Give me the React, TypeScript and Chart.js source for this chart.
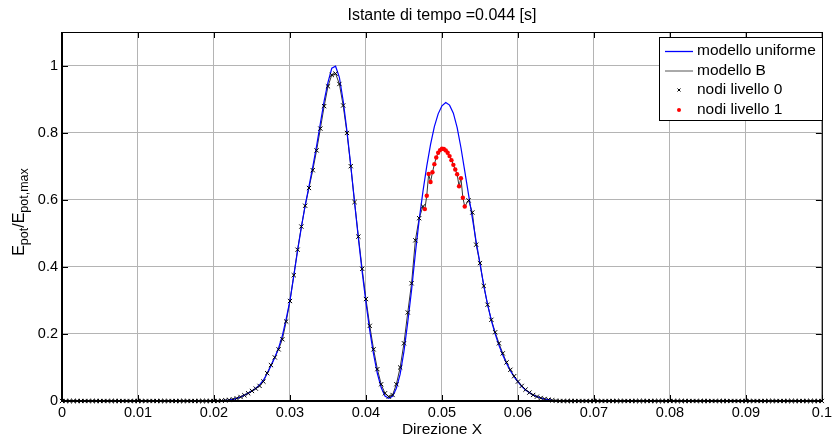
import React, { useEffect, useRef } from "react";
import { Chart, registerables } from "chart.js";

Chart.register(...registerables);

const titleText = "Istante di tempo =0.044 [s]";
const xAxisTitle = "Direzione X";
const legendLabels = ["modello uniforme", "modello B", "nodi livello 0", "nodi livello 1"];

const xTicks = [0, 0.01, 0.02, 0.03, 0.04, 0.05, 0.06, 0.07, 0.08, 0.09, 0.1];
const xTickLabels = ["0", "0.01", "0.02", "0.03", "0.04", "0.05", "0.06", "0.07", "0.08", "0.09", "0.1"];
const yTicks = [0, 0.2, 0.4, 0.6, 0.8, 1];
const yTickLabels = ["0", "0.2", "0.4", "0.6", "0.8", "1"];

// modello uniforme (blue line)
const uniformX = [
  0, 0.02, 0.0205, 0.021, 0.0215, 0.022, 0.0225, 0.023, 0.0235, 0.024, 0.0245,
  0.025, 0.0255, 0.026, 0.0265, 0.027, 0.0275, 0.028, 0.0285, 0.029, 0.0295,
  0.03, 0.0305, 0.031, 0.0315, 0.032, 0.0325, 0.033, 0.0335, 0.034, 0.0345,
  0.035, 0.0355, 0.036, 0.0365, 0.037, 0.0375, 0.038, 0.0385, 0.039, 0.0395,
  0.04, 0.0405, 0.041, 0.0415, 0.042, 0.0425, 0.043, 0.0435, 0.044, 0.0445,
  0.045, 0.0455, 0.046, 0.0465, 0.047, 0.0475, 0.048, 0.0485, 0.049, 0.0495,
  0.05, 0.0505, 0.051, 0.0515, 0.052, 0.0525, 0.053, 0.0535, 0.054, 0.0545,
  0.055, 0.0555, 0.056, 0.0565, 0.057, 0.0575, 0.058, 0.0585, 0.059, 0.0595,
  0.06, 0.0605, 0.061, 0.0615, 0.062, 0.0625, 0.063, 0.0635, 0.064, 0.0645,
  0.065, 0.066, 0.1,
];
const uniformY = [
  0, 0, 0.0005, 0.001, 0.002, 0.003, 0.005, 0.008, 0.012, 0.017, 0.023,
  0.03, 0.038, 0.048, 0.062, 0.082, 0.105, 0.13, 0.158, 0.195, 0.245,
  0.3, 0.372, 0.448, 0.518, 0.583, 0.64, 0.698, 0.76, 0.828, 0.895,
  0.95, 0.992, 0.998, 0.965, 0.895, 0.805, 0.702, 0.592, 0.485, 0.385,
  0.293, 0.21, 0.14, 0.082, 0.04, 0.015, 0.008, 0.014, 0.038, 0.08,
  0.148, 0.235, 0.33, 0.44, 0.54, 0.625, 0.7, 0.765, 0.818, 0.856,
  0.88, 0.89, 0.882, 0.858, 0.815, 0.755, 0.685, 0.615, 0.545, 0.475,
  0.41, 0.345, 0.288, 0.24, 0.2, 0.166, 0.137, 0.112, 0.09, 0.072,
  0.057, 0.044, 0.033, 0.025, 0.018, 0.013, 0.009, 0.006, 0.004, 0.002,
  0.001, 0, 0,
];

// nodi livello 0
const level0X = [
  0, 0.0005, 0.001, 0.0015, 0.002, 0.0025, 0.003, 0.0035, 0.004, 0.0045,
  0.005, 0.0055, 0.006, 0.0065, 0.007, 0.0075, 0.008, 0.0085, 0.009, 0.0095,
  0.01, 0.0105, 0.011, 0.0115, 0.012, 0.0125, 0.013, 0.0135, 0.014, 0.0145,
  0.015, 0.0155, 0.016, 0.0165, 0.017, 0.0175, 0.018, 0.0185, 0.019, 0.0195,
  0.02, 0.0205, 0.021, 0.0215, 0.022, 0.0225, 0.023, 0.0235, 0.024, 0.0245,
  0.025, 0.0255, 0.026, 0.0265, 0.027, 0.0275, 0.028, 0.0285, 0.029, 0.0295,
  0.03, 0.0305, 0.031, 0.0315, 0.032, 0.0325, 0.033, 0.0335, 0.034, 0.0345,
  0.035, 0.0355, 0.036, 0.0365, 0.037, 0.0375, 0.038, 0.0385, 0.039, 0.0395,
  0.04, 0.0405, 0.041, 0.0415, 0.042, 0.0425, 0.043, 0.0435, 0.044, 0.0445,
  0.045, 0.0455, 0.046, 0.0465, 0.047, 0.0475,
  0.0535, 0.054, 0.0545, 0.055, 0.0555, 0.056, 0.0565, 0.057, 0.0575, 0.058, 0.0585, 0.059, 0.0595,
  0.06, 0.0605, 0.061, 0.0615, 0.062, 0.0625, 0.063, 0.0635, 0.064, 0.0645,
  0.065, 0.0655, 0.066, 0.0665, 0.067, 0.0675, 0.068, 0.0685, 0.069, 0.0695,
  0.07, 0.0705, 0.071, 0.0715, 0.072, 0.0725, 0.073, 0.0735, 0.074, 0.0745,
  0.075, 0.0755, 0.076, 0.0765, 0.077, 0.0775, 0.078, 0.0785, 0.079, 0.0795,
  0.08, 0.0805, 0.081, 0.0815, 0.082, 0.0825, 0.083, 0.0835, 0.084, 0.0845,
  0.085, 0.0855, 0.086, 0.0865, 0.087, 0.0875, 0.088, 0.0885, 0.089, 0.0895,
  0.09, 0.0905, 0.091, 0.0915, 0.092, 0.0925, 0.093, 0.0935, 0.094, 0.0945,
  0.095, 0.0955, 0.096, 0.0965, 0.097, 0.0975, 0.098, 0.0985, 0.099, 0.0995, 0.1,
];
const level0Y = [
  0, 0, 0, 0, 0, 0, 0, 0, 0, 0,
  0, 0, 0, 0, 0, 0, 0, 0, 0, 0,
  0, 0, 0, 0, 0, 0, 0, 0, 0, 0,
  0, 0, 0, 0, 0, 0, 0, 0, 0, 0,
  0, 0, 0.001, 0.002, 0.003, 0.005, 0.008, 0.012, 0.017, 0.023,
  0.03, 0.037, 0.045, 0.058, 0.083, 0.107, 0.13, 0.154, 0.184, 0.237,
  0.298, 0.375, 0.451, 0.52, 0.582, 0.635, 0.688, 0.747, 0.812, 0.879,
  0.938, 0.972, 0.976, 0.945, 0.881, 0.799, 0.7, 0.593, 0.49, 0.394,
  0.304, 0.224, 0.154, 0.095, 0.05, 0.023, 0.013, 0.018, 0.05, 0.1,
  0.172, 0.264, 0.351, 0.479, 0.545, 0.58,
  0.598, 0.562, 0.466, 0.411, 0.343, 0.287, 0.242, 0.205, 0.172, 0.142, 0.115, 0.093, 0.074,
  0.058, 0.045, 0.034, 0.025, 0.018, 0.013, 0.009, 0.006, 0.004, 0.002,
  0.001, 0, 0, 0, 0, 0, 0, 0, 0, 0,
  0, 0, 0, 0, 0, 0, 0, 0, 0, 0,
  0, 0, 0, 0, 0, 0, 0, 0, 0, 0,
  0, 0, 0, 0, 0, 0, 0, 0, 0, 0,
  0, 0, 0, 0, 0, 0, 0, 0, 0, 0,
  0, 0, 0, 0, 0, 0, 0, 0, 0, 0,
  0, 0, 0, 0, 0, 0, 0, 0, 0, 0, 0,
];

// nodi livello 1 (refined nodes, red)
const level1X = [
  0.04775, 0.048, 0.04825, 0.0485, 0.04875, 0.049, 0.04925, 0.0495, 0.04975, 0.05, 0.05025,
  0.0505, 0.05075, 0.051, 0.05125, 0.0515, 0.05175, 0.052, 0.05225, 0.0525, 0.05275, 0.053,
];
const level1Y = [
  0.572, 0.612, 0.677, 0.653, 0.682, 0.706, 0.726, 0.74, 0.748, 0.752, 0.751,
  0.747, 0.74, 0.73, 0.718, 0.704, 0.69, 0.676, 0.64, 0.664, 0.606, 0.58,
];

const FONT = "'Liberation Sans', Arial, Helvetica, sans-serif";

const toPts = (xs: number[], ys: number[]) => xs.map((x, i) => ({ x, y: ys[i] }));

const overlayPlugin = {
  id: "matlabOverlay",
  afterDraw(chart: any) {
    const { ctx, chartArea } = chart;
    const { left, right, top, bottom } = chartArea;
    const xs = chart.scales.x;
    const ys = chart.scales.y;
    ctx.save();

    // frame
    ctx.strokeStyle = "#000";
    ctx.lineWidth = 1;
    ctx.beginPath();
    ctx.moveTo(left, top + 0.5);
    ctx.lineTo(right + 0.5, top + 0.5);
    ctx.lineTo(right + 0.5, bottom);
    ctx.stroke();
    ctx.lineWidth = 2;
    ctx.beginPath();
    ctx.moveTo(left, top);
    ctx.lineTo(left, bottom);
    ctx.lineTo(right + 1, bottom);
    ctx.stroke();

    // inward tick marks
    ctx.lineWidth = 1;
    ctx.beginPath();
    xTicks.forEach((t) => {
      const px = Math.round(xs.getPixelForValue(t)) + 0.5;
      ctx.moveTo(px, bottom);
      ctx.lineTo(px, bottom - 6);
      ctx.moveTo(px, top);
      ctx.lineTo(px, top + 6);
    });
    yTicks.forEach((t) => {
      const py = Math.round(ys.getPixelForValue(t)) + 0.5;
      ctx.moveTo(left, py);
      ctx.lineTo(left + 6, py);
      ctx.moveTo(right, py);
      ctx.lineTo(right - 6, py);
    });
    ctx.stroke();

    // title
    ctx.fillStyle = "#000";
    ctx.font = `16px ${FONT}`;
    ctx.textAlign = "center";
    ctx.textBaseline = "middle";
    ctx.fillText(titleText, (left + right) / 2, 16);

    // x axis title
    ctx.font = `15.5px ${FONT}`;
    ctx.fillText(xAxisTitle, (left + right) / 2, 430);

    // y axis title with subscripts
    ctx.save();
    ctx.translate(24, 212);
    ctx.rotate(-Math.PI / 2);
    const mainF = `16px ${FONT}`;
    const subF = `12.5px ${FONT}`;
    const parts: [string, boolean][] = [["E", false], ["pot", true], ["/E", false], ["pot,max", true]];
    let total = 0;
    parts.forEach(([s, sub]) => {
      ctx.font = sub ? subF : mainF;
      total += ctx.measureText(s).width;
    });
    let cx = -total / 2;
    ctx.textAlign = "left";
    ctx.textBaseline = "alphabetic";
    parts.forEach(([s, sub]) => {
      ctx.font = sub ? subF : mainF;
      ctx.fillText(s, cx, sub ? 4 : 0);
      cx += ctx.measureText(s).width;
    });
    ctx.restore();

    // legend box
    const bx = 659.5, by = 37.5, bw = 163, bh = 83;
    ctx.fillStyle = "#fff";
    ctx.fillRect(bx, by, bw, bh);
    ctx.strokeStyle = "#000";
    ctx.lineWidth = 1;
    ctx.strokeRect(bx, by, bw, bh);
    const rows = [51, 70.5, 90, 110];
    ctx.font = `15.5px ${FONT}`;
    ctx.textAlign = "left";
    ctx.textBaseline = "middle";
    ctx.fillStyle = "#000";
    legendLabels.forEach((lab, i) => {
      ctx.fillText(lab, 697, rows[i]);
    });
    // samples
    ctx.lineWidth = 1.3;
    ctx.strokeStyle = "#0000ff";
    ctx.beginPath();
    ctx.moveTo(665, rows[0] + 0.5);
    ctx.lineTo(693, rows[0] + 0.5);
    ctx.stroke();
    ctx.lineWidth = 1;
    ctx.strokeStyle = "#555";
    ctx.beginPath();
    ctx.moveTo(665, rows[1] + 0.5);
    ctx.lineTo(693, rows[1] + 0.5);
    ctx.stroke();
    ctx.strokeStyle = "#000";
    ctx.beginPath();
    ctx.moveTo(677.5, rows[2] - 1.5);
    ctx.lineTo(680.5, rows[2] + 1.5);
    ctx.moveTo(680.5, rows[2] - 1.5);
    ctx.lineTo(677.5, rows[2] + 1.5);
    ctx.stroke();
    ctx.fillStyle = "#ff0000";
    ctx.beginPath();
    ctx.arc(679, rows[3], 2, 0, Math.PI * 2);
    ctx.fill();

    ctx.restore();
  },
};

export default function App() {
  const canvasRef = useRef<HTMLCanvasElement | null>(null);

  useEffect(() => {
    if (!canvasRef.current) return;
    const uniformPts = toPts(uniformX, uniformY);
    const level0Pts = toPts(level0X, level0Y);
    const level1Pts = toPts(level1X, level1Y);
    const modelBPts = [...level0Pts, ...level1Pts].sort((a, b) => a.x - b.x);

    const chart = new Chart(canvasRef.current, {
      type: "scatter",
      data: {
        datasets: [
          {
            label: legendLabels[0],
            data: uniformPts,
            showLine: true,
            borderColor: "#0000ff",
            borderWidth: 1.2,
            pointRadius: 0,
            tension: 0,
            order: 2,
            clip: false,
          },
          {
            label: legendLabels[1],
            data: modelBPts,
            showLine: true,
            borderColor: "#333333",
            borderWidth: 1,
            pointRadius: 0,
            tension: 0,
            order: 3,
            clip: false,
          },
          {
            label: legendLabels[2],
            data: level0Pts,
            showLine: false,
            pointStyle: "crossRot",
            pointRadius: 3,
            borderColor: "#000",
            borderWidth: 1,
            order: 1,
            clip: false,
          },
          {
            label: legendLabels[3],
            data: level1Pts,
            showLine: false,
            pointStyle: "circle",
            pointRadius: 2.2,
            backgroundColor: "#ff0000",
            borderColor: "#ff0000",
            borderWidth: 0,
            order: 0,
            clip: false,
          },
        ] as any,
      },
      options: {
        responsive: false,
        animation: false,
        events: [],
        layout: { padding: { top: 32, right: 8, left: 0, bottom: 0 } },
        plugins: {
          legend: { display: false },
          title: { display: false },
          tooltip: { enabled: false },
        },
        scales: {
          x: {
            type: "linear",
            min: 0,
            max: 0.1,
            afterFit: (s: any) => {
              s.height = 42;
            },
            afterBuildTicks: (s: any) => {
              s.ticks = xTicks.map((v) => ({ value: v }));
            },
            ticks: {
              autoSkip: false,
              maxRotation: 0,
              padding: 3,
              color: "#000",
              font: { family: FONT, size: 14.5 },
              callback: (_v: any, i: number) => xTickLabels[i],
            },
            grid: { color: "#b4b4b4", lineWidth: 1, drawTicks: false },
            border: { display: false },
          },
          y: {
            type: "linear",
            min: 0,
            max: 1.1,
            afterFit: (s: any) => {
              s.width = 62;
            },
            afterBuildTicks: (s: any) => {
              s.ticks = yTicks.map((v) => ({ value: v }));
            },
            ticks: {
              autoSkip: false,
              padding: 4,
              color: "#000",
              font: { family: FONT, size: 14.5 },
              callback: (_v: any, i: number) => yTickLabels[i],
            },
            grid: { color: "#b4b4b4", lineWidth: 1, drawTicks: false },
            border: { display: false },
          },
        },
      } as any,
      plugins: [overlayPlugin],
    });
    return () => chart.destroy();
  }, []);

  return (
    <div style={{ position: "absolute", left: 0, top: 0, width: 835, height: 443, background: "#fff" }}>
      <canvas ref={canvasRef} width={835} height={443} style={{ display: "block", width: 835, height: 443 }} />
    </div>
  );
}
